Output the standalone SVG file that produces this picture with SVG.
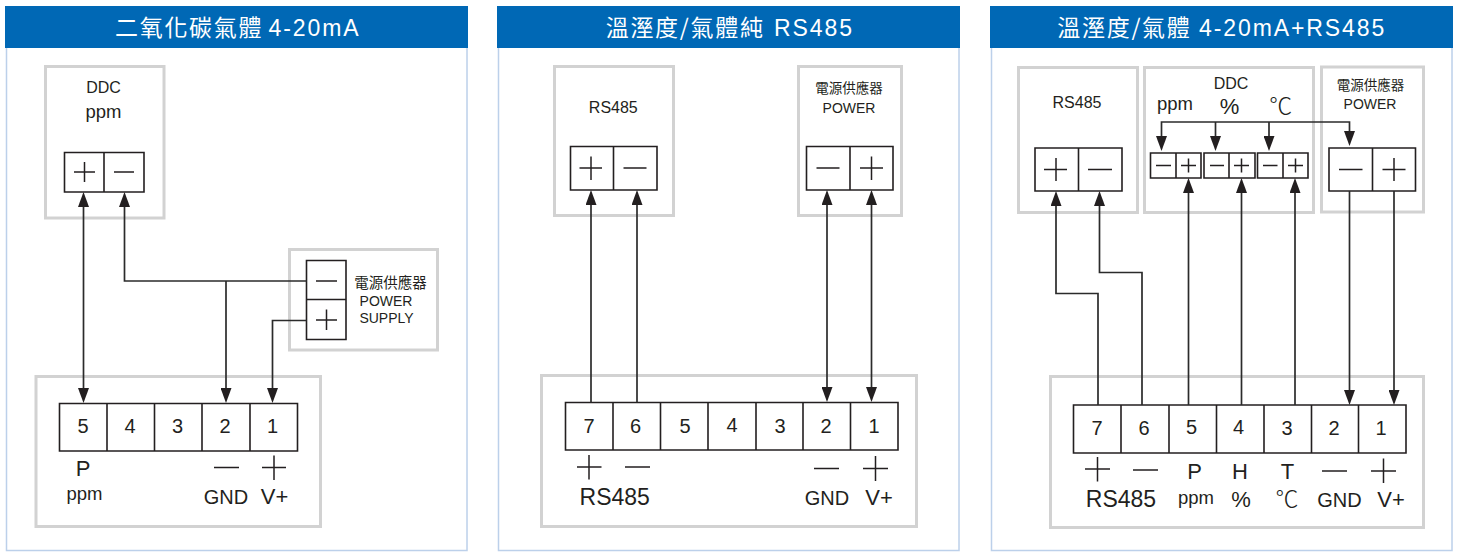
<svg xmlns="http://www.w3.org/2000/svg" width="1459" height="552" viewBox="0 0 1459 552">
<style>
text{font-family:"Liberation Sans","Noto Sans CJK TC",sans-serif;fill:#231f20;text-anchor:middle}
.panel{fill:#fff;stroke:#bcd0ea;stroke-width:1.5}
.head{fill:#0068b5}
.title{font-size:23px;letter-spacing:1.7px;fill:#fff;text-anchor:start;font-family:"Noto Sans CJK TC","Liberation Sans",sans-serif}
.title tspan.l{font-family:"Liberation Sans",sans-serif;letter-spacing:1.9px}
.box{fill:#fff;stroke:#d2d2d2;stroke-width:3}
.term{fill:#fff;stroke:#231f20;stroke-width:1.6}
.mark{fill:none;stroke:#231f20;stroke-width:1.5}
.wire{fill:none;stroke:#2b2b2b;stroke-width:1.7}
.cjk{font-family:"Noto Sans CJK TC",sans-serif}
.deg{font-family:"Noto Sans CJK TC",sans-serif;font-weight:300;font-size:23px}
.s14{font-size:14px}.s16{font-size:16px}.s18{font-size:18.5px}.s19{font-size:20px}.s20{font-size:20px}.s22{font-size:22px}.s23{font-size:23px}
</style>
<defs>
<marker id="arrow" viewBox="0 0 15 11" markerWidth="15" markerHeight="11" refX="10" refY="5.5" orient="auto-start-reverse" markerUnits="userSpaceOnUse"><path d="M0 0L15 5.5L0 11Z" fill="#231f20"/></marker>
</defs>

<g id="panel-1">
<rect class="panel" x="6.5" y="40" width="460.500" height="510.500"/>
<rect class="head" x="5" y="6" width="463" height="42"/>
<text class="title" x="115" y="36">二氧化碳氣體<tspan class="l" x="268.500">4-20mA</tspan></text>
</g>
<g id="panel-2">
<rect class="panel" x="498.500" y="40" width="460.500" height="510.500"/>
<rect class="head" x="497" y="6" width="463" height="42"/>
<text class="title" x="605.700" y="36">溫溼度/氣體純<tspan class="l" x="774">RS485</tspan></text>
</g>
<g id="panel-3">
<rect class="panel" x="991.500" y="40" width="460.500" height="510.500"/>
<rect class="head" x="990" y="6" width="463" height="42"/>
<text class="title" x="1057.300" y="36">溫溼度/氣體<tspan class="l" x="1199">4-20mA+RS485</tspan></text>
</g>

<g id="p1-ddc">
<rect class="box" x="45.500" y="66.500" width="118.500" height="151.500"/>
<text class="s16" x="103.500" y="93">DDC</text>
<text class="s18" x="103.500" y="118">ppm</text>
<path class="term" d="M64.500 152.500H144V192H64.500ZM104 152.500V192"/>
<path class="mark" d="M74 172H95M84.500 162V182M114 172H134"/>
</g>
<g id="p1-power">
<rect class="box" x="289.500" y="249.500" width="148" height="100.500"/>
<path class="term" d="M306.500 260.500H346V339.500H306.500ZM306.500 299.500H346"/>
<path class="mark" d="M316 281H337M316 320H337M326.500 309.500V330"/>
<text class="cjk s14" style="font-size:14.500px" x="390.500" y="288">電源供應器</text>
<text class="s14" x="386" y="306">POWER</text>
<text class="s14" x="386.500" y="323">SUPPLY</text>
</g>
<g id="p1-terminals">
<rect class="box" x="36" y="376.500" width="284.500" height="150"/>
<path class="term" d="M59.500 403.500H297.500V451H59.500ZM107 403.500V451M154.500 403.500V451M202 403.500V451M250 403.500V451"/>
<text class="s19" x="83" y="433">5</text><text class="s19" x="130" y="433">4</text><text class="s19" x="177.500" y="433">3</text><text class="s19" x="225" y="433">2</text><text class="s19" x="272.500" y="433">1</text>
<path class="mark" d="M214 467.500H239M262 467.500H286M274 455.500V480"/>
<text class="s22" x="83" y="476">P</text>
<text class="s18" x="84.500" y="500">ppm</text>
<text class="s20" x="226" y="504">GND</text>
<text class="s22" x="274.500" y="504">V+</text>
</g>
<g id="p1-connectors">
<path class="wire" marker-start="url(#arrow)" marker-end="url(#arrow)" d="M83.500 197V398"/>
<path class="wire" marker-start="url(#arrow)" d="M124.500 197V281H306.500"/>
<path class="wire" marker-end="url(#arrow)" d="M226 281V398"/>
<path class="wire" marker-end="url(#arrow)" d="M306.500 320.500H272.500V398"/>
</g>

<g id="p2-rs485">
<rect class="box" x="554.500" y="66.500" width="119" height="149"/>
<text class="s16" x="613.300" y="113">RS485</text>
<path class="term" d="M570.500 146.500H657V190H570.500ZM613.500 146.500V190"/>
<path class="mark" d="M579.500 168H602M591 156.500V180M623.500 168H646.500"/>
</g>
<g id="p2-power">
<rect class="box" x="798.500" y="66.500" width="103" height="149"/>
<text class="cjk" style="font-size:13.500px" x="849" y="93">電源供應器</text>
<text class="s14" x="849" y="113">POWER</text>
<path class="term" d="M806.500 146.500H893V190H806.500ZM850 146.500V190"/>
<path class="mark" d="M816.500 168H839.500M860 168H883M871.500 156.500V180"/>
</g>
<g id="p2-terminals">
<rect class="box" x="541.500" y="375.500" width="375" height="151"/>
<path class="term" d="M565.500 402.500H898V450H565.500ZM613 402.500V450M660.500 402.500V450M708 402.500V450M756 402.500V450M803 402.500V450M850.500 402.500V450"/>
<text class="s19" x="589" y="433">7</text><text class="s19" x="635.500" y="433">6</text><text class="s19" x="685" y="433">5</text><text class="s19" x="732" y="432">4</text><text class="s19" x="780" y="433">3</text><text class="s19" x="826" y="433">2</text><text class="s19" x="874" y="433">1</text>
<path class="mark" d="M577 467H601.500M589 455V479.500M625 467H650M814 468.500H839M863 468.500H888M875.500 456V481"/>
<text class="s23" x="614.700" y="505">RS485</text>
<text class="s20" x="827" y="505">GND</text>
<text class="s22" x="879" y="505">V+</text>
</g>
<g id="p2-connectors">
<path class="wire" marker-start="url(#arrow)" d="M591 195V402.500"/>
<path class="wire" marker-start="url(#arrow)" d="M637 195V402.500"/>
<path class="wire" marker-start="url(#arrow)" marker-end="url(#arrow)" d="M827 195V397"/>
<path class="wire" marker-start="url(#arrow)" marker-end="url(#arrow)" d="M871.500 195V397"/>
</g>

<g id="p3-rs485">
<rect class="box" x="1018.500" y="67.500" width="119" height="145"/>
<text class="s16" x="1077" y="108">RS485</text>
<path class="term" d="M1035 148H1122V191H1035ZM1078.500 148V191"/>
<path class="mark" d="M1044 169.500H1067M1056 158V181M1088 169.500H1112"/>
</g>
<g id="p3-ddc">
<rect class="box" x="1144.500" y="67.500" width="169" height="145"/>
<text class="s16" x="1231" y="89">DDC</text>
<text class="s18" x="1175" y="110">ppm</text>
<text class="s22" x="1229.500" y="114">%</text>
<text class="deg" x="1280.700" y="114">℃</text>
<path class="term" d="M1150.500 153H1201V178H1150.500ZM1176 153V178M1204 153H1255V178H1204ZM1229 153V178M1257.500 153H1308V178H1257.500ZM1283 153V178"/>
<path class="mark" d="M1156 165.500H1171M1181 165.500H1196M1188.500 158.500V172.500M1210 165.500H1224M1234 165.500H1249M1241.500 158.500V172.500M1263 165.500H1277.500M1288 165.500H1303M1295.500 158.500V172.500"/>
</g>
<g id="p3-power">
<rect class="box" x="1321.500" y="67" width="102" height="145"/>
<text class="cjk" style="font-size:13.500px" x="1370.500" y="90">電源供應器</text>
<text class="s14" x="1370" y="109">POWER</text>
<path class="term" d="M1329 148H1415.500V191H1329ZM1372.500 148V191"/>
<path class="mark" d="M1339 169.500H1362.500M1382.500 169.500H1405.500M1394 158V181"/>
</g>
<g id="p3-terminals">
<rect class="box" x="1050.500" y="376.500" width="373" height="151"/>
<path class="term" d="M1073.500 405H1406V453H1073.500ZM1121 405V453M1169 405V453M1216.500 405V453M1264 405V453M1311.500 405V453M1358.500 405V453"/>
<text class="s19" x="1097" y="435">7</text><text class="s19" x="1144" y="435">6</text><text class="s19" x="1191.500" y="434">5</text><text class="s19" x="1238.500" y="434">4</text><text class="s19" x="1287" y="435">3</text><text class="s19" x="1334" y="435">2</text><text class="s19" x="1381" y="435">1</text>
<path class="mark" d="M1085 469H1110M1097.500 457V481.500M1133 470H1158M1322 471H1347M1371 471H1396M1383.500 458.500V483"/>
<text class="s22" x="1194.700" y="479">P</text><text class="s22" x="1240" y="479">H</text><text class="s22" x="1287.500" y="479">T</text>
<text class="s23" x="1121" y="506.500">RS485</text>
<text class="s18" x="1196" y="504">ppm</text>
<text class="s22" x="1241" y="507">%</text>
<text class="deg" x="1287" y="507">℃</text>
<text class="s20" x="1339.500" y="507">GND</text>
<text class="s22" x="1391" y="507">V+</text>
</g>
<g id="p3-connectors">
<path class="wire" marker-start="url(#arrow)" d="M1056 196V293.500H1098V405"/>
<path class="wire" marker-start="url(#arrow)" d="M1099.500 196V272.500H1142V405"/>
<path class="wire" marker-start="url(#arrow)" d="M1188.500 183V405"/>
<path class="wire" marker-start="url(#arrow)" d="M1241.500 183V405"/>
<path class="wire" marker-start="url(#arrow)" d="M1295 183V405"/>
<path class="wire" marker-start="url(#arrow)" marker-end="url(#arrow)" d="M1161.500 146V122H1349.500V141"/>
<path class="wire" marker-end="url(#arrow)" d="M1215.500 122V146"/>
<path class="wire" marker-end="url(#arrow)" d="M1269 122V146"/>
<path class="wire" marker-end="url(#arrow)" d="M1349.500 191V400"/>
<path class="wire" marker-end="url(#arrow)" d="M1394 191V400"/>
</g>
</svg>
